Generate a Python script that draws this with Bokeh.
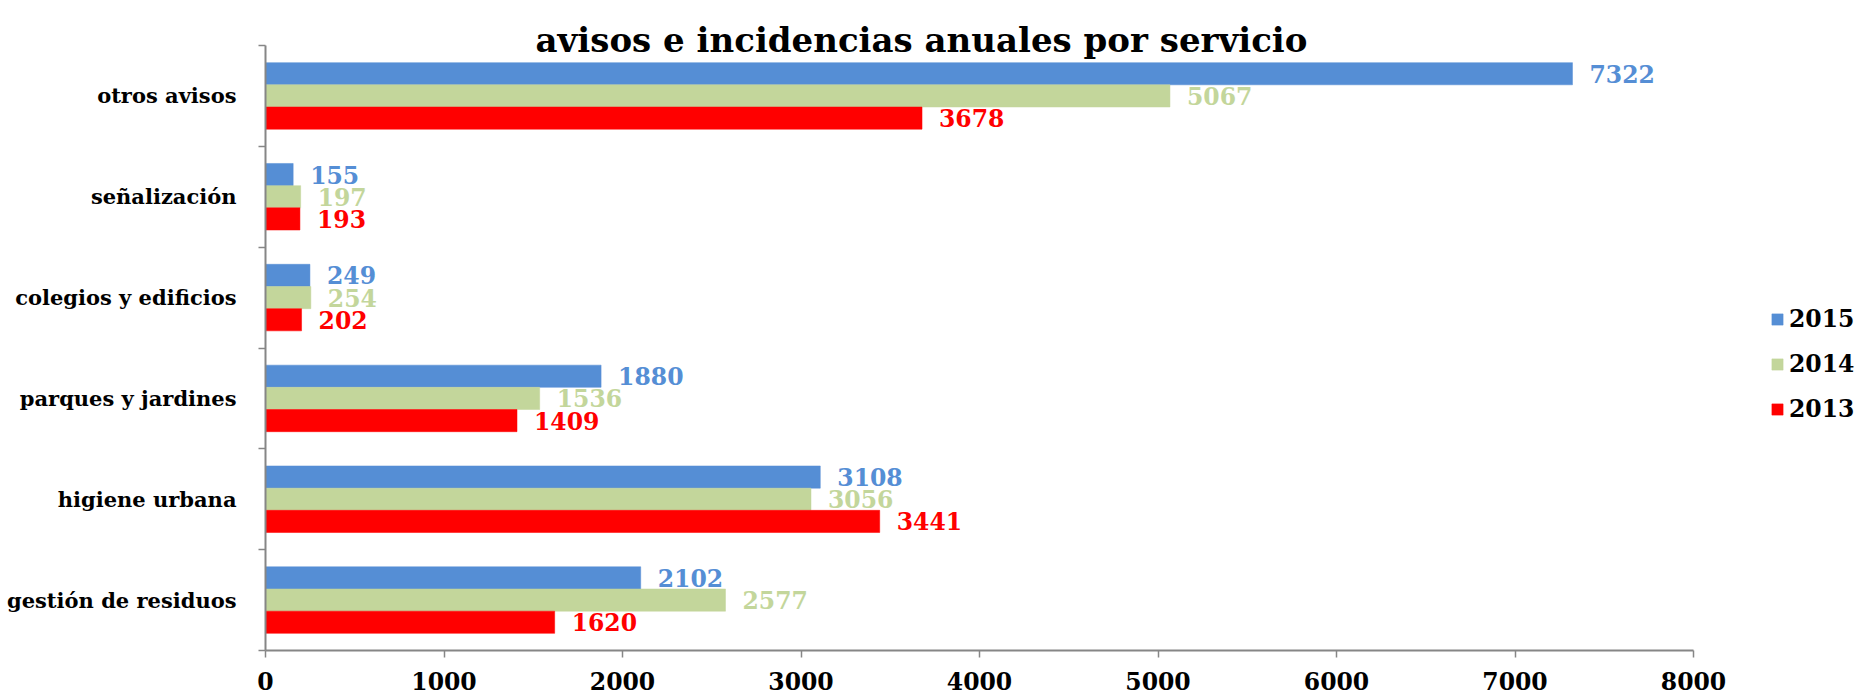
from bokeh.plotting import figure
from bokeh.models import (ColumnDataSource, FixedTicker, Range1d, Label, Legend, LegendItem)
from bokeh.transform import dodge
from bokeh.core.properties import value
from bokeh.embed import file_html
from bokeh.resources import INLINE

categories = ["gestión de residuos", "higiene urbana", "parques y jardines",
              "colegios y edificios", "señalización", "otros avisos"]
v2015 = [2102, 3108, 1880, 249, 155, 7322]
v2014 = [2577, 3056, 1536, 254, 197, 5067]
v2013 = [1620, 3441, 1409, 202, 193, 3678]
years = ["2015", "2014", "2013"]
colors = ["#558ED5", "#C3D69B", "#FF0000"]
x_ticks = [0, 1000, 2000, 3000, 4000, 5000, 6000, 7000, 8000]
title_text = "avisos e incidencias anuales por servicio"

FONT = "DejaVu Serif"
pos = [i + 0.5 for i in range(len(categories))]
ncat = len(categories)

src = ColumnDataSource(dict(
    y=pos, v2015=v2015, v2014=v2014, v2013=v2013,
    l2015=[str(v) for v in v2015], l2014=[str(v) for v in v2014], l2013=[str(v) for v in v2013],
))

W, H = 1870, 695
# frame: left 265 .. right edge; top edge .. bottom 650
frame_left, frame_bottom = 265, 650
axis_px = 1693 - frame_left           # pixels for 0..8000
band_px = (650 - 45) / ncat           # pixels per category band
x_end = 8000 * (W - frame_left) / axis_px
y_end = ncat + 45 / band_px

p = figure(width=W, height=H, output_backend="svg", toolbar_location=None,
           x_range=Range1d(0, x_end), y_range=Range1d(0, y_end),
           min_border_left=frame_left, min_border_right=0, min_border_top=0,
           min_border_bottom=H - frame_bottom)
p.outline_line_color = None
p.xgrid.grid_line_color = None
p.ygrid.grid_line_color = None
p.background_fill_color = "white"

bh = 0.22
offsets = [bh, 0.0, -bh]
renderers = []
for yr, col, off in zip(years, colors, offsets):
    r = p.hbar(y=dodge("y", off), right="v" + yr, left=0, height=bh, source=src,
               fill_color=col, line_color=col, line_alpha=0.5)
    renderers.append(r)
    p.text(x="v" + yr, y=dodge("y", off), text="l" + yr, source=src,
           x_offset=17, text_baseline="middle", text_align="left",
           text_color=col, text_font=value(FONT), text_font_style="bold",
           text_font_size="23.5px")

# axes
axis_color = "#868686"
xa = p.xaxis[0]
xa.bounds = (0, 8000)
xa.ticker = FixedTicker(ticks=x_ticks)
xa.axis_line_color = axis_color
xa.axis_line_width = 2
xa.major_tick_line_color = axis_color
xa.major_tick_line_width = 1.5
xa.major_tick_out = 7
xa.major_tick_in = 0
xa.minor_tick_line_color = None
xa.major_label_text_font = FONT
xa.major_label_text_font_style = "bold"
xa.major_label_text_font_size = "23.5px"
xa.major_label_text_color = "black"
xa.major_label_standoff = 14

ya = p.yaxis[0]
ya.bounds = (0, ncat)
ya.ticker = FixedTicker(ticks=pos, minor_ticks=list(range(ncat + 1)))
ya.major_label_overrides = {p_: c for p_, c in zip(pos, categories)}
ya.axis_line_color = axis_color
ya.axis_line_width = 2
ya.major_tick_line_color = None
ya.major_tick_out = 0
ya.major_tick_in = 0
ya.minor_tick_line_color = axis_color
ya.minor_tick_line_width = 1.5
ya.minor_tick_out = 7
ya.minor_tick_in = 0
ya.major_label_text_font = FONT
ya.major_label_text_font_style = "bold"
ya.major_label_text_font_size = "21px"
ya.major_label_text_color = "black"
ya.major_label_standoff = 22

# title
title = Label(x=656, y=611, x_units="screen", y_units="screen", text=title_text,
              text_align="center", text_baseline="alphabetic",
              text_font=FONT, text_font_style="bold", text_font_size="34px",
              text_color="black")
p.add_layout(title)

legend = Legend(items=[LegendItem(label=yr, renderers=[r]) for yr, r in zip(years, renderers)],
                location=(1505, 226), orientation="vertical",
                label_text_font=FONT, label_text_font_style="bold", label_text_font_size="23.5px",
                label_text_color="black", glyph_width=14, glyph_height=14,
                label_height=30, spacing=15, label_standoff=5, padding=0, margin=0,
                border_line_color=None, background_fill_alpha=0)
p.add_layout(legend, "center")

open("out.html", "w").write(file_html(p, INLINE))
